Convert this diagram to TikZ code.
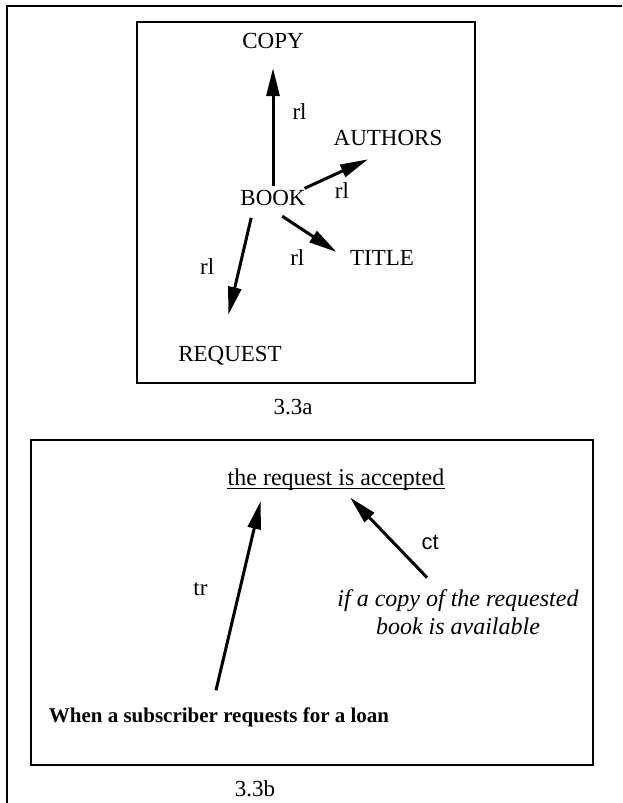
\documentclass[tikz,border=0pt]{standalone}
\usepackage{fontspec}
\setmainfont{Liberation Serif}
\newfontfamily\labelsans{Liberation Sans}
\usetikzlibrary{arrows.meta,positioning}

\begin{document}
\begin{tikzpicture}[x=0.5pt,y=-0.5pt,on grid,
    >={Triangle[length=14pt,width=6.5pt]},
    every node/.style={inner sep=2pt,font=\fontsize{11.5}{13}\selectfont},
    frame/.style={line width=1.3pt},
    rel/.style={->,line width=1.5pt}]
  \useasboundingbox (0,0) rectangle (622,803);
  % page frame, open on the right and at the bottom
  \draw[line width=1pt] (7,803) -- (7,6) -- (622,6);

  % 3.3a
  \draw[frame] (137,22) rectangle (475,383);
  \node (book) at (273,198) {BOOK};
  \node (copy) [above=78.5pt of book] {COPY};
  \node (authors) [above right=30pt and 57.5pt of book] {AUTHORS};
  \node (title) [below right=30pt and 54.5pt of book] {TITLE};
  \node (request) [below left=79pt and 21.5pt of book] {REQUEST};
  \node (capa) at (293,407) {3.3a};
  \path[rel]
    (book.north) edge [shorten >=7.5pt] node [pos=.56, right=7pt] {rl} (copy.south)
    (book.north east) edge [shorten <=-3pt, shorten >=11pt] node [pos=.41, below=3pt] {rl} (authors.south)
    (book.south) edge [shorten <=5.5pt, shorten >=5.5pt] node [pos=.5, xshift=-6pt, yshift=-11.5pt] {rl} (title.west)
    ([xshift=-10pt]book.south) edge [shorten <=4pt, shorten >=14pt] node [pos=.43, left=10pt] {rl} ([xshift=-4pt]request.north);

  % 3.3b
  \draw[frame] (31,440) rectangle (593,765);
  \node[font=\fontsize{12}{14}\selectfont] (accepted) at (336,480) {the request is accepted};
  \draw[line width=.5pt] ([shift={(2pt,-1.5pt)}]accepted.base west) -- ([shift={(-2pt,-1.5pt)}]accepted.base east);
  \node[font=\fontsize{12}{14}\selectfont\itshape, align=center] (avail) [below right=66.25pt and 61pt of accepted]
    {if a copy of the requested\\book is available};
  \node[font=\fontsize{10.5}{12}\selectfont\bfseries] (loan) [below left=118.5pt and 58.5pt of accepted]
    {When a subscriber requests for a loan};
  \node (capb) at (255,789) {3.3b};
  \path[rel]
    ([xshift=-3pt]loan.north) edge [shorten <=6.5pt, shorten >=3pt] node [pos=.55, left=13.5pt] {tr} ([xshift=-37pt]accepted.south)
    ([xshift=-15.5pt,yshift=4pt]avail.north) edge [shorten >=1.5pt]
      node [pos=.43, right=11.5pt, font=\labelsans\fontsize{11}{13}\selectfont] {ct} ([xshift=6pt]accepted.south);
\end{tikzpicture}
\end{document}
